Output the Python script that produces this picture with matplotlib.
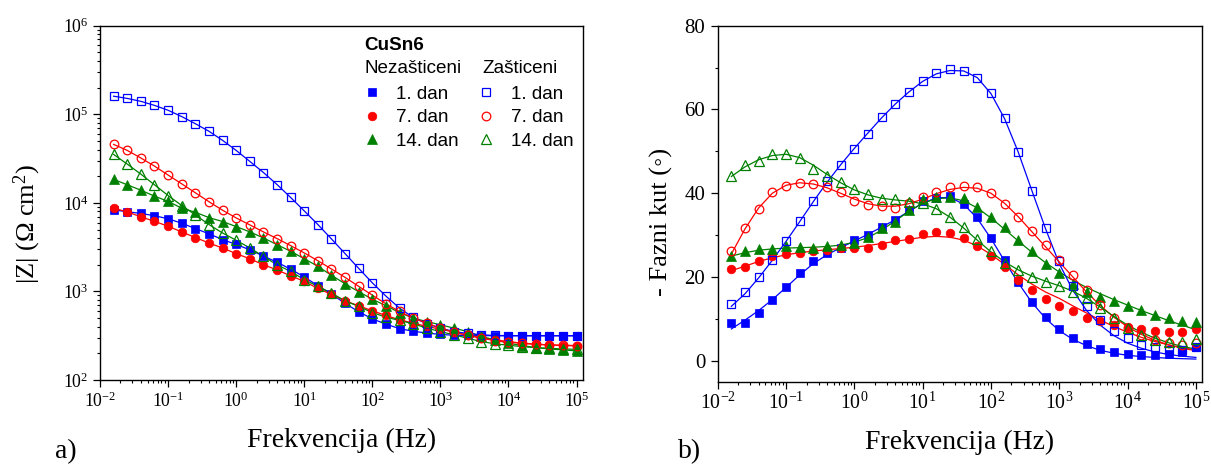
import matplotlib
matplotlib.use("Agg")
import matplotlib.pyplot as plt
from matplotlib.ticker import LogLocator, NullFormatter, FixedLocator

plt.rcParams['font.family'] = ['Liberation Serif', 'DejaVu Serif', 'DejaVu Sans']
plt.rcParams['mathtext.fontset'] = 'custom'
plt.rcParams['mathtext.rm'] = 'Liberation Serif'
plt.rcParams['mathtext.it'] = 'Liberation Serif:italic'
plt.rcParams['mathtext.bf'] = 'Liberation Serif:bold'

# ---------------- data ----------------
freq = [0.01585, 0.02512, 0.03981, 0.06310, 0.1, 0.1585, 0.2512, 0.3981, 0.6310,
        1.0, 1.585, 2.512, 3.981, 6.310, 10.0, 15.85, 25.12, 39.81, 63.10,
        100.0, 158.5, 251.2, 398.1, 631.0, 1000.0, 1585.0, 2512.0, 3981.0, 6310.0,
        10000.0, 15850.0, 25120.0, 39810.0, 63100.0, 100000.0]

# |Z| (Ohm cm^2)
z_nez_1 = [8320, 7940, 7590, 7160, 6610, 5890, 5130, 4470, 3850, 3390, 2950, 2510,
           2140, 1780, 1460, 1160, 933, 733, 589, 490, 427, 380, 355, 339, 327, 320,
           318, 317, 316, 316, 316, 316, 316, 316, 316]
z_nez_7 = [8710, 7910, 6950, 6190, 5440, 4700, 4060, 3520, 3090, 2670, 2340, 2000,
           1750, 1500, 1300, 1080, 925, 783, 689, 604, 535, 478, 439, 402, 375, 347,
           321, 301, 284, 272, 260, 253, 249, 245, 243]
z_nez_14 = [18400, 16000, 13900, 11900, 10400, 8710, 7830, 6820, 6150, 5400, 4700,
            4020, 3370, 2840, 2340, 1920, 1520, 1220, 991, 818, 689, 578, 499, 457,
            420, 385, 352, 310, 284, 260, 245, 232, 224, 219, 213]
z_zas_1 = [160000, 151000, 140000, 126000, 111000, 94200, 78300, 64300, 50800, 39100,
           29400, 22000, 16100, 11500, 8110, 5690, 3910, 2670, 1820, 1250, 885, 647,
           508, 431, 385, 352, 335, 324, 318, 317, 316, 316, 316, 316, 316]
z_zas_7 = [45700, 39100, 32100, 26000, 20600, 16400, 13000, 10300, 8260, 6760, 5640,
           4700, 3950, 3290, 2720, 2220, 1790, 1440, 1140, 908, 724, 594, 499, 439,
           385, 347, 318, 296, 279, 267, 260, 254, 249, 247, 245]
z_zas_14 = [35200, 27400, 21100, 16000, 12100, 9330, 7310, 5690, 4570, 3780, 3100,
            2490, 2000, 1680, 1360, 1140, 957, 783, 676, 578, 512, 470, 431, 385, 352,
            323, 296, 272, 256, 247, 238, 232, 228, 224, 222]

# - phase angle (deg), measured
ph_nez_1 = [9.1, 9.0, 11.5, 14.4, 17.7, 20.9, 23.9, 25.8, 26.9, 28.9, 30.1, 31.9, 33.5,
            36.0, 38.1, 38.8, 39.4, 37.5, 34.3, 29.4, 24.1, 18.7, 14.1, 10.5, 7.6, 5.4,
            4.0, 2.8, 2.2, 1.6, 1.4, 1.4, 1.7, 2.2, 3.2]
ph_nez_7 = [21.9, 22.5, 23.7, 24.9, 25.5, 25.8, 26.1, 26.5, 26.9, 27.0, 26.9, 27.7, 28.9,
            29.1, 30.3, 30.7, 30.6, 29.4, 27.4, 25.0, 22.4, 19.4, 16.8, 14.7, 13.1, 11.8,
            10.2, 9.4, 8.6, 8.0, 7.6, 7.2, 6.8, 6.8, 7.5]
ph_nez_14 = [25.0, 26.3, 26.6, 26.7, 27.3, 27.1, 27.0, 27.4, 27.7, 28.2, 29.5, 31.6, 33.2,
             35.9, 38.6, 39.0, 39.2, 38.8, 36.8, 34.4, 31.9, 28.9, 26.1, 23.1, 20.9, 18.3,
             16.5, 15.3, 14.2, 13.1, 12.2, 11.0, 10.2, 9.5, 9.2]
ph_zas_1 = [13.6, 16.3, 20.0, 24.1, 28.5, 33.4, 38.2, 43.0, 46.8, 50.6, 54.2, 58.1, 61.3,
            64.1, 66.8, 68.7, 69.6, 69.3, 67.5, 63.9, 57.9, 49.9, 40.5, 31.8, 23.8, 17.9,
            13.0, 9.8, 7.2, 5.4, 3.8, 3.3, 2.5, 2.6, 3.4]
ph_zas_7 = [26.1, 31.6, 36.3, 40.2, 41.8, 42.4, 42.2, 41.4, 40.4, 38.2, 37.2, 36.9, 36.5,
            37.6, 39.0, 40.2, 41.4, 41.7, 41.4, 40.0, 37.5, 34.4, 31.1, 27.7, 24.1, 20.5,
            16.8, 13.4, 10.2, 7.8, 6.2, 5.0, 4.2, 3.8, 4.2]
ph_zas_14 = [44.1, 46.8, 47.8, 49.4, 49.4, 48.4, 45.8, 44.0, 42.8, 41.0, 39.8, 38.7, 38.6,
             38.0, 37.6, 36.2, 34.4, 31.9, 29.0, 26.2, 23.3, 21.7, 20.0, 18.9, 17.9, 16.5,
             15.0, 12.6, 10.2, 7.8, 6.2, 5.0, 4.5, 4.5, 5.2]

# - phase angle (deg), fitted curves
fit_nez_1 = [7.6, 9.7, 12.0, 14.6, 17.5, 20.5, 23.2, 25.3, 27.0, 28.6, 30.2, 31.9, 33.7,
             35.7, 37.6, 38.9, 39.0, 37.4, 34.0, 29.2, 23.8, 18.6, 13.9, 10.1, 7.2, 5.1,
             3.6, 2.5, 1.8, 1.3, 1.0, 0.8, 0.6, 0.5, 0.4]
fit_nez_7 = [21.5, 22.6, 23.7, 24.6, 25.3, 25.8, 26.2, 26.5, 26.8, 27.1, 27.5, 28.0, 28.5,
             29.0, 29.5, 29.7, 29.5, 28.8, 27.4, 25.4, 23.0, 20.5, 18.3, 16.4, 14.9, 13.1,
             11.4, 9.7, 8.2, 6.8, 5.6, 4.6, 3.8, 3.1, 2.6]
fit_nez_14 = [25.0, 25.8, 26.4, 26.7, 26.9, 27.0, 27.1, 27.3, 27.6, 28.3, 29.4, 31.2, 33.4,
              35.7, 37.6, 38.7, 38.9, 38.2, 36.5, 34.1, 31.4, 28.6, 25.9, 23.4, 21.2, 19.2,
              17.5, 16.0, 14.6, 13.3, 12.0, 10.8, 9.6, 8.5, 7.4]
fit_zas_1 = [13.0, 16.0, 19.8, 24.0, 28.5, 33.2, 38.0, 42.6, 46.8, 50.7, 54.4, 58.0, 61.3,
             64.2, 66.7, 68.5, 69.3, 69.2, 67.6, 63.8, 57.8, 49.8, 40.6, 31.5, 23.2, 16.8,
             12.0, 8.5, 6.0, 4.2, 3.0, 2.1, 1.5, 1.1, 0.8]
fit_zas_7 = [25.5, 31.5, 36.5, 40.0, 41.9, 42.5, 42.2, 41.3, 40.0, 38.6, 37.5, 36.9, 36.9,
             37.5, 38.6, 39.9, 40.9, 41.4, 41.2, 40.0, 37.6, 34.4, 30.8, 27.2, 23.6, 20.0,
             16.4, 13.2, 10.4, 8.1, 6.3, 4.9, 3.8, 3.0, 2.4]
fit_zas_14 = [44.0, 46.3, 48.0, 49.0, 49.3, 48.5, 46.7, 44.5, 42.5, 40.8, 39.6, 38.8, 38.4,
              38.1, 37.5, 36.3, 34.3, 31.7, 28.8, 26.0, 23.6, 21.7, 20.2, 19.0, 17.9, 16.6,
              14.9, 12.8, 10.6, 8.5, 6.8, 5.4, 4.3, 3.4, 2.8]

labels = ["1. dan", "7. dan", "14. dan"]
legend_title = "CuSn6"
group_names = ["Nezašticeni", "Zašticeni"]

BLUE, RED, GREEN = "#0000FF", "#FF0000", "#008000"
series = [
    # (key, Z, phase, fit, color, marker, size, filled)
    ("n1", z_nez_1, ph_nez_1, fit_nez_1, BLUE, "s", 5.2, True),
    ("n7", z_nez_7, ph_nez_7, fit_nez_7, RED, "o", 6.2, True),
    ("n14", z_nez_14, ph_nez_14, fit_nez_14, GREEN, "^", 6.8, True),
    ("z1", z_zas_1, ph_zas_1, fit_zas_1, BLUE, "s", 5.4, False),
    ("z7", z_zas_7, ph_zas_7, fit_zas_7, RED, "o", 6.2, False),
    ("z14", z_zas_14, ph_zas_14, fit_zas_14, GREEN, "^", 6.8, False),
]

W, H = 1211, 466
fig = plt.figure(figsize=(W / 100, H / 100), dpi=100)
ax1 = fig.add_axes([100 / W, 1 - 380 / H, 482.7 / W, 354.3 / H])
ax2 = fig.add_axes([717.7 / W, 1 - 381.7 / H, 484.3 / W, 356.0 / H])

handles = []
for key, z, ph, fit, col, mk, ms, filled in series:
    mstyle = dict(marker=mk, markersize=ms, linestyle="none", color=col,
                  markeredgecolor=col, markeredgewidth=0.9 if not filled else 0.5,
                  markerfacecolor=col if filled else "none", zorder=3)
    ax1.plot(freq, z, color=col, lw=0.9, zorder=2)
    h, = ax1.plot(freq, z, **mstyle)
    handles.append(h)
    ax2.plot(freq, fit, color=col, lw=0.9, zorder=2)
    ax2.plot(freq, ph, **mstyle)

xmax = 1.23e5
for ax, xls in ((ax1, 12.8), (ax2, 14.3)):
    ax.set_xscale("log")
    ax.set_xlim(1e-2, xmax)
    ax.xaxis.set_major_locator(LogLocator(base=10, numticks=20))
    ax.xaxis.set_minor_locator(LogLocator(base=10, subs=range(2, 10), numticks=20))
    ax.xaxis.set_minor_formatter(NullFormatter())
    ax.tick_params(which="major", direction="out", length=5, width=0.9,
                   labelsize=xls, pad=3, top=False, right=False)
    ax.tick_params(which="minor", direction="out", length=2.5, width=0.8,
                   top=False, right=False)
    for sp in ax.spines.values():
        sp.set_linewidth(1.0)
    ax.set_xlabel("Frekvencija (Hz)", fontsize=20)

ax1.set_yscale("log")
ax1.set_ylim(1e2, 1e6)
ax1.yaxis.set_major_locator(LogLocator(base=10, numticks=10))
ax1.yaxis.set_minor_locator(LogLocator(base=10, subs=range(2, 10), numticks=10))
ax1.yaxis.set_minor_formatter(NullFormatter())
ax1.set_ylabel("|Z| (Ω cm$^2$)", fontsize=19)
ax1.yaxis.set_label_coords(-0.118, 0.44)

ax2.set_ylim(-5, 80)
ax2.yaxis.set_major_locator(FixedLocator([0, 20, 40, 60, 80]))
ax2.yaxis.set_minor_locator(FixedLocator([10, 30, 50, 70]))
ax2.tick_params(axis="y", which="major", pad=4, labelsize=15)
ax2.set_ylabel("- Fazni kut (\u25e6)", fontsize=19)
ax2.yaxis.set_label_coords(-0.093, 0.45)

for ax in (ax1, ax2):
    ax.xaxis.label.set_va("center")
    ax.xaxis.set_label_coords(0.5, -0.17)

# legend block
sans = "Liberation Sans"
fs_leg = 13.6
ax1.text(0.547, 0.9455, legend_title, transform=ax1.transAxes, ha="left", va="center",
         fontsize=fs_leg, fontweight="bold", family=sans)
ax1.text(0.547, 0.878, group_names[0], transform=ax1.transAxes, ha="left", va="center",
         fontsize=fs_leg, family=sans)
ax1.text(0.793, 0.878, group_names[1], transform=ax1.transAxes, ha="left", va="center",
         fontsize=fs_leg, family=sans)
ax1.legend(handles, labels + labels, ncol=2, loc="upper left",
           bbox_to_anchor=(0.543, 0.831), frameon=False, borderpad=0,
           borderaxespad=0, handlelength=1.0, handletextpad=0.8,
           columnspacing=0.95, labelspacing=0.33, numpoints=1,
           prop={"family": sans, "size": fs_leg})

fig.text(55 / W, 1 - 452 / H, "a)", fontsize=20, ha="left", va="center")
fig.text(678 / W, 1 - 452 / H, "b)", fontsize=20, ha="left", va="center")

fig.savefig("out.png", dpi=100)
